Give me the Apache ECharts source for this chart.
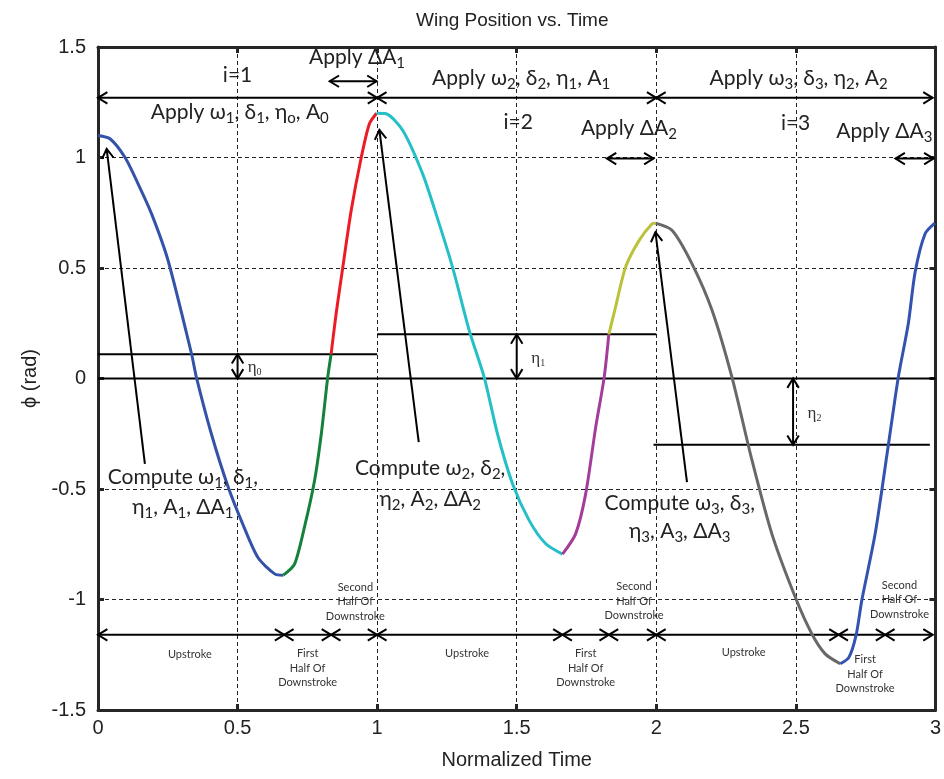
<!DOCTYPE html>
<html>
<head>
<meta charset="utf-8">
<script src="https://cdn.jsdelivr.net/npm/echarts@6/dist/echarts.min.js"></script>
<style>
html, body { margin: 0; padding: 0; background: #fff; }
#chart { width: 944px; height: 779px; }
</style>
</head>
<body>
<div id="chart"></div>
<script>
// wing position curve, one array per coloured stroke phase: [normalized time, phi (rad)]
var upstroke1 = [[0, 1.10], [0.043, 1.085], [0.097, 1.0], [0.144, 0.88], [0.192, 0.745], [0.251, 0.534],
    [0.335, 0.112], [0.353, 0.003], [0.406, -0.25], [0.466, -0.49], [0.519, -0.66], [0.573, -0.81],
    [0.633, -0.884], [0.664, -0.89]];
var firstHalf1 = [[0.664, -0.89], [0.704, -0.84], [0.74, -0.67], [0.776, -0.46], [0.80, -0.25],
    [0.823, 0.006], [0.835, 0.11]];
var secondHalf1 = [[0.835, 0.11], [0.853, 0.293], [0.877, 0.504], [0.907, 0.76], [0.943, 1.0],
    [0.972, 1.152], [0.998, 1.20]];
var upstroke2 = [[0.998, 1.20], [1.032, 1.198], [1.092, 1.122], [1.163, 0.926], [1.211, 0.745],
    [1.27, 0.504], [1.33, 0.217], [1.384, 0.003], [1.431, -0.25], [1.485, -0.476], [1.545, -0.643],
    [1.604, -0.748], [1.664, -0.795]];
var firstHalf2 = [[1.664, -0.795], [1.711, -0.703], [1.747, -0.522], [1.783, -0.22], [1.813, 0.003],
    [1.83, 0.20]];
var secondHalf2 = [[1.83, 0.20], [1.854, 0.323], [1.89, 0.504], [1.938, 0.624], [1.985, 0.70], [1.998, 0.703]];
var upstroke3 = [[1.998, 0.703], [2.057, 0.67], [2.128, 0.519], [2.2, 0.308], [2.271, 0.006],
    [2.343, -0.371], [2.414, -0.703], [2.498, -0.99], [2.557, -1.155], [2.605, -1.246], [2.659, -1.291]];
var downstroke3 = [[2.659, -1.291], [2.69, -1.262], [2.716, -1.16], [2.736, -1.005], [2.784, -0.703],
    [2.832, -0.295], [2.867, 0.006], [2.903, 0.25], [2.927, 0.48], [2.963, 0.655], [2.998, 0.703]];

var xTicks = [0, 0.5, 1, 1.5, 2, 2.5, 3];
var yTicks = [-1.5, -1, -0.5, 0, 0.5, 1, 1.5];

// annotation lines: [x1, y1, x2, y2, head at start, head at end]
var refLines = [[0, 0.11, 1, 0.11, 0, 0], [0, 0, 3, 0, 0, 0], [1, 0.2, 2, 0.2, 0, 0], [1.99, -0.3, 2.98, -0.3, 0, 0]];
var topArrows = [[0, 1.27, 1, 1.27, 1, 1], [1, 1.27, 2, 1.27, 1, 1], [2, 1.27, 2.99, 1.27, 1, 1],
    [0.83, 1.345, 0.998, 1.345, 1, 1], [1.823, 0.995, 1.99, 0.995, 1, 1], [2.857, 0.995, 2.993, 0.995, 1, 1]];
var phaseArrows = [[0, -1.16, 0.667, -1.16, 1, 1], [0.667, -1.16, 0.835, -1.16, 1, 1], [0.835, -1.16, 1, -1.16, 1, 1],
    [1, -1.16, 1.664, -1.16, 1, 1], [1.664, -1.16, 1.83, -1.16, 1, 1], [1.83, -1.16, 2, -1.16, 1, 1],
    [2, -1.16, 2.653, -1.16, 1, 1], [2.653, -1.16, 2.82, -1.16, 1, 1], [2.82, -1.16, 2.99, -1.16, 1, 1]];
var etaArrows = [[0.5, 0.11, 0.5, 0, 1, 1], [1.5, 0.2, 1.5, 0, 1, 1], [2.49, 0, 2.49, -0.3, 1, 1]];
var computeArrows = [[0.168, -0.386, 0.031, 1.039, 0, 1], [1.149, -0.288, 1.008, 1.125, 0, 1],
    [2.11, -0.469, 1.997, 0.662, 0, 1]];

// text labels: [x, y, text], "_c" marks a subscript
var bigLabels = [
    [0.5, 1.371, 'i=1'], [1.505, 1.158, 'i=2'], [2.499, 1.154, 'i=3'],
    [0.928, 1.452, 'Apply ΔA_1'], [1.902, 1.131, 'Apply ΔA_2'], [2.817, 1.118, 'Apply ΔA_3'],
    [0.508, 1.205, 'Apply ω_1, δ_1, η_o, A_0'],
    [1.516, 1.357, 'Apply ω_2, δ_2, η_1, A_1'],
    [2.51, 1.357, 'Apply ω_3, δ_3, η_2, A_2'],
    [0.304, -0.448, 'Compute ω_1, δ_1,'], [0.304, -0.584, 'η_1, A_1, ΔA_1'],
    [1.19, -0.407, 'Compute ω_2, δ_2,'], [1.19, -0.548, 'η_2, A_2, ΔA_2'],
    [2.084, -0.566, 'Compute ω_3, δ_3,'], [2.084, -0.692, 'η_3, A_3, ΔA_3']
];
var etaLabels = [[0.561, 0.051, 'η_0'], [1.577, 0.089, 'η_1'], [2.567, -0.16, 'η_2']];
var phaseLabels = [
    [0.329, -1.249, 'Upstroke'], [0.751, -1.312, 'First\nHalf Of\nDownstroke'], [0.922, -1.011, 'Second\nHalf Of\nDownstroke'],
    [1.322, -1.244, 'Upstroke'], [1.747, -1.310, 'First\nHalf Of\nDownstroke'], [1.92, -1.007, 'Second\nHalf Of\nDownstroke'],
    [2.313, -1.240, 'Upstroke'], [2.748, -1.339, 'First\nHalf Of\nDownstroke'], [2.871, -1.002, 'Second\nHalf Of\nDownstroke']
];

var sansFont = 'Lato, "Noto Sans", sans-serif';

function richText(str) {
    return str.split('\n').map(function (line) {
        return '{n|' + line.replace(/_(\w)/g, '}{s|$1}{n|') + '}';
    }).join('\n');
}

function head(tip, from) {
    var ang = Math.atan2(from[1] - tip[1], from[0] - tip[0]);
    var L = 11, w = 0.55;
    return {
        type: 'polyline',
        shape: { points: [[tip[0] + L * Math.cos(ang + w), tip[1] + L * Math.sin(ang + w)], tip,
            [tip[0] + L * Math.cos(ang - w), tip[1] + L * Math.sin(ang - w)]] },
        style: { stroke: '#000', fill: null, lineWidth: 2 }
    };
}

function arrowSeries(list) {
    return {
        type: 'custom',
        data: list,
        encode: { x: [0, 2], y: [1, 3] },
        silent: true,
        z: 3,
        renderItem: function (params, api) {
            var a = api.coord([api.value(0), api.value(1)]);
            var b = api.coord([api.value(2), api.value(3)]);
            var kids = [{ type: 'line', shape: { x1: a[0], y1: a[1], x2: b[0], y2: b[1] },
                style: { stroke: '#000', lineWidth: 2 } }];
            if (api.value(4)) kids.push(head(a, b));
            if (api.value(5)) kids.push(head(b, a));
            return { type: 'group', children: kids };
        }
    };
}

function labelSeries(list, rich, plain) {
    return {
        type: 'custom',
        data: list.map(function (l) { return [l[0], l[1]]; }),
        silent: true,
        z: 5,
        renderItem: function (params, api) {
            var l = list[params.dataIndex];
            var p = api.coord([l[0], l[1]]);
            var style = { align: 'center', verticalAlign: 'middle' };
            if (rich) {
                style.text = richText(l[2]);
                style.rich = rich;
            } else {
                style.text = l[2];
                for (var k in plain) style[k] = plain[k];
            }
            return { type: 'text', x: p[0], y: p[1], style: style };
        }
    };
}

function curve(data, color) {
    return {
        type: 'line',
        data: data,
        showSymbol: false,
        smooth: 0.25,
        z: 4,
        lineStyle: { color: color, width: 3 }
    };
}

var frame = { show: true, onZero: false, lineStyle: { color: '#262626', width: 3 } };
var ticks = { show: true, inside: true, length: 6, lineStyle: { color: '#262626', width: 3 } };
var grid = { show: true, lineStyle: { color: '#222', width: 1, type: [4, 3] } };
var tickFont = { fontFamily: '"Liberation Sans", Arial, sans-serif', fontSize: 20, color: '#222' };

var chart = echarts.init(document.getElementById('chart'));
chart.setOption({
    animation: false,
    backgroundColor: '#fff',
    title: {
        text: 'Wing Position vs. Time',
        left: 411,
        top: 6,
        textStyle: { fontFamily: '"Liberation Sans", Arial, sans-serif', fontSize: 19, fontWeight: 'normal', color: '#222' }
    },
    grid: { left: 98, right: 7, top: 47, bottom: 69 },
    xAxis: [{
        type: 'value', min: xTicks[0], max: xTicks[xTicks.length - 1], interval: 0.5,
        name: 'Normalized Time', nameLocation: 'middle', nameGap: 40,
        nameTextStyle: { fontFamily: '"Liberation Sans", Arial, sans-serif', fontSize: 20, color: '#222' },
        axisLine: frame, axisTick: ticks, splitLine: grid,
        axisLabel: Object.assign({ margin: 8 }, tickFont)
    }, {
        type: 'value', position: 'top', min: xTicks[0], max: xTicks[xTicks.length - 1], interval: 0.5,
        axisLine: frame, axisTick: ticks, splitLine: { show: false }, axisLabel: { show: false }
    }],
    yAxis: [{
        type: 'value', min: yTicks[0], max: yTicks[yTicks.length - 1], interval: 0.5,
        name: 'ϕ (rad)', nameLocation: 'middle', nameGap: 56,
        nameTextStyle: { fontFamily: '"Liberation Sans", Arial, sans-serif', fontSize: 20, color: '#222' },
        axisLine: frame, axisTick: ticks, splitLine: grid,
        axisLabel: Object.assign({ margin: 12 }, tickFont)
    }, {
        type: 'value', position: 'right', min: yTicks[0], max: yTicks[yTicks.length - 1], interval: 0.5,
        axisLine: frame, axisTick: ticks, splitLine: { show: false }, axisLabel: { show: false }
    }],
    series: [
        arrowSeries(refLines),
        arrowSeries(topArrows),
        arrowSeries(phaseArrows),
        arrowSeries(etaArrows),
        arrowSeries(computeArrows),
        curve(upstroke1, '#3452a8'),
        curve(firstHalf1, '#15823c'),
        curve(secondHalf1, '#ed1c24'),
        curve(upstroke2, '#24bfc7'),
        curve(firstHalf2, '#a43c9c'),
        curve(secondHalf2, '#bcc13a'),
        curve(upstroke3, '#686868'),
        curve(downstroke3, '#3452b0'),
        labelSeries(bigLabels, {
            n: { fontFamily: sansFont, fontSize: 21, lineHeight: 26, fill: '#222' },
            s: { fontFamily: sansFont, fontSize: 15, lineHeight: 15, verticalAlign: 'bottom', fill: '#222' }
        }),
        labelSeries(etaLabels, {
            n: { fontFamily: '"Liberation Serif", serif', fontSize: 17, lineHeight: 20, fill: '#333' },
            s: { fontFamily: '"Liberation Serif", serif', fontSize: 10, lineHeight: 10, verticalAlign: 'bottom', fill: '#333' }
        }),
        labelSeries(phaseLabels, null, { fontFamily: sansFont, fontSize: 11, lineHeight: 14.5, fill: '#333' })
    ]
});
</script>
</body>
</html>
